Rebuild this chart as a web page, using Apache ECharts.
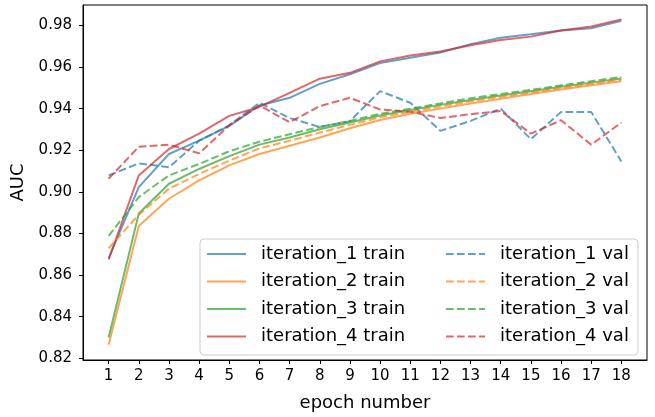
<!DOCTYPE html>
<html>
<head>
<meta charset="utf-8">
<script src="https://cdn.jsdelivr.net/npm/echarts@6/dist/echarts.min.js"></script>
<style>
  html, body { margin: 0; padding: 0; background: #fff; }
  #chart { width: 655px; height: 417px; }
</style>
</head>
<body>
<div id="chart"></div>
<script>
// epochs on the x axis
const epochs = [1, 2, 3, 4, 5, 6, 7, 8, 9, 10, 11, 12, 13, 14, 15, 16, 17, 18];
const yTicks = [0.82, 0.84, 0.86, 0.88, 0.90, 0.92, 0.94, 0.96, 0.98];

// train AUC per iteration
const iter1Train = [0.868, 0.9023, 0.9182, 0.9246, 0.9317, 0.9415, 0.9452, 0.9519, 0.9565, 0.9619, 0.9645, 0.967, 0.971, 0.9741, 0.9757, 0.9775, 0.9786, 0.9822];
const iter2Train = [0.8265, 0.8836, 0.8967, 0.9055, 0.9127, 0.9182, 0.9222, 0.9261, 0.9306, 0.9345, 0.9375, 0.940, 0.9425, 0.9448, 0.947, 0.9492, 0.9512, 0.9532];
const iter3Train = [0.830, 0.8896, 0.9039, 0.911, 0.9172, 0.9227, 0.9261, 0.9301, 0.9333, 0.9367, 0.9393, 0.9418, 0.9442, 0.9463, 0.9483, 0.9505, 0.9525, 0.9545];
const iter4Train = [0.8675, 0.9079, 0.9206, 0.928, 0.9365, 0.9408, 0.9476, 0.9544, 0.9572, 0.9627, 0.9655, 0.9675, 0.9705, 0.973, 0.9746, 0.9775, 0.9795, 0.9829];

// validation AUC per iteration
const iter1Val = [0.9079, 0.9137, 0.9118, 0.9246, 0.932, 0.9428, 0.9355, 0.9312, 0.934, 0.9484, 0.9428, 0.9293, 0.9341, 0.940, 0.9253, 0.9384, 0.9384, 0.9146];
const iter2Val = [0.8729, 0.889, 0.9015, 0.9086, 0.915, 0.9209, 0.9246, 0.9285, 0.9322, 0.9358, 0.9385, 0.941, 0.9435, 0.9457, 0.9478, 0.9499, 0.9519, 0.954];
const iter3Val = [0.8788, 0.8975, 0.9079, 0.9134, 0.9195, 0.9241, 0.9277, 0.9312, 0.9341, 0.9375, 0.940, 0.9425, 0.945, 0.947, 0.949, 0.9512, 0.9532, 0.9552];
const iter4Val = [0.9063, 0.9217, 0.9227, 0.9185, 0.932, 0.9415, 0.9335, 0.9412, 0.9452, 0.9396, 0.9385, 0.9355, 0.9373, 0.9389, 0.928, 0.9344, 0.9227, 0.9333];

const trainNames = ['iteration_1 train', 'iteration_2 train', 'iteration_3 train', 'iteration_4 train'];
const valNames = ['iteration_1 val', 'iteration_2 val', 'iteration_3 val', 'iteration_4 val'];
const colors = ['#1f77b4', '#ff7f0e', '#2ca02c', '#d62728'];

const FONT = 'DejaVu Sans';

function mkSeries(name, vals, color, dashed) {
  return {
    name: name,
    type: 'line',
    data: epochs.map((e, i) => [e, vals[i]]),
    symbol: 'none',
    smooth: false,
    itemStyle: { color: color, opacity: 0.7 },
    lineStyle: {
      color: color,
      width: 2,
      opacity: 0.7,
      type: dashed ? [7.7, 3.3] : 'solid'
    },
    emphasis: { disabled: true },
    z: 2
  };
}

const series = [
  mkSeries(trainNames[0], iter1Train, colors[0], false),
  mkSeries(trainNames[1], iter2Train, colors[1], false),
  mkSeries(trainNames[2], iter3Train, colors[2], false),
  mkSeries(trainNames[3], iter4Train, colors[3], false),
  mkSeries(valNames[0], iter1Val, colors[0], true),
  mkSeries(valNames[1], iter2Val, colors[1], true),
  mkSeries(valNames[2], iter3Val, colors[2], true),
  mkSeries(valNames[3], iter4Val, colors[3], true)
];

const legendBase = {
  orient: 'vertical',
  top: 245,
  padding: 0,
  itemWidth: 39,
  itemHeight: 14,
  itemGap: 9.5,
  selectedMode: false,
  z: 5,
  // hide the marker dot, keep only the line sample
  itemStyle: { color: 'transparent', borderWidth: 0, opacity: 0 },
  textStyle: { fontFamily: FONT, fontSize: 18, color: '#000', lineHeight: 18, padding: [0, 0, 0, 10] }
};

let chart = echarts.init(document.getElementById('chart'));

let option = {
  animation: false,
  backgroundColor: '#fff',
  grid: {
    left: 83, top: 5, right: 8, bottom: 54,
    show: true, borderColor: '#000', borderWidth: 1, backgroundColor: 'transparent'
  },
  xAxis: {
    type: 'value',
    min: 0.15,
    max: 18.85,
    name: 'epoch number',
    nameLocation: 'middle',
    nameGap: 34,
    nameTextStyle: { fontFamily: FONT, fontSize: 18, color: '#000' },
    axisLine: { show: true, lineStyle: { color: '#000', width: 1 } },
    axisTick: { show: true, length: 4, customValues: epochs, lineStyle: { color: '#000' } },
    axisLabel: { customValues: epochs, fontFamily: FONT, fontSize: 15, color: '#000', margin: 9 },
    splitLine: { show: false }
  },
  yAxis: {
    type: 'value',
    min: 0.8192,
    max: 0.9898,
    name: 'AUC',
    nameLocation: 'middle',
    nameGap: 53,
    nameTextStyle: { fontFamily: FONT, fontSize: 18, color: '#000' },
    axisLine: { show: true, lineStyle: { color: '#000', width: 1 } },
    axisTick: { show: true, length: 4, customValues: yTicks, lineStyle: { color: '#000' } },
    axisLabel: {
      customValues: yTicks, fontFamily: FONT, fontSize: 15, color: '#000', margin: 11,
      formatter: v => v.toFixed(2)
    },
    splitLine: { show: false }
  },
  legend: [
    Object.assign({}, legendBase, { left: 206, data: trainNames }),
    Object.assign({}, legendBase, { left: 445, data: valNames })
  ],
  graphic: [{
    type: 'rect',
    z: 4,
    shape: { x: 200, y: 239, width: 438, height: 116, r: 4 },
    style: { fill: 'rgba(255,255,255,0.8)', stroke: '#cccccc', lineWidth: 1 }
  }],
  series: series
};

chart.setOption(option);
</script>
</body>
</html>
